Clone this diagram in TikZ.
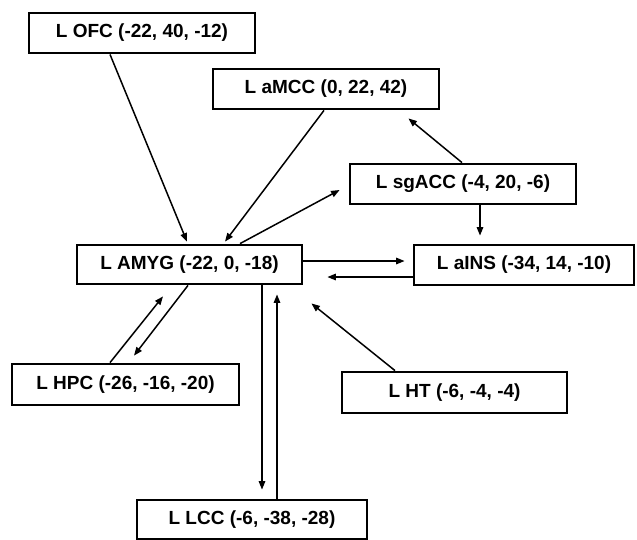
\documentclass[tikz,border=0pt]{standalone}
\usepackage{fontspec}
\setmainfont{Liberation Sans}
\usepackage{tikz}
\usetikzlibrary{arrows.meta, positioning, calc}
\tikzstyle{region} = [rectangle, draw=black, line width=2.8pt, fill=white, inner sep=0pt, minimum width=226pt, minimum height=40pt, align=center, font=\fontsize{19}{20}\selectfont\bfseries]
\tikzstyle{arrow} = [line width=1.5pt, -{Triangle[length=8.5pt, width=6.5pt]}]

\begin{document}
\begin{tikzpicture}[x=1pt, y=-1pt]
\useasboundingbox (0,0) rectangle (637,539);

% Top row
\node[region] (ofc) at (142,33) {L OFC (-22, 40, -12)};
\node[region] (amcc) at (326,89) {L aMCC (0, 22, 42)};
\node[region] (sgacc) at (463,184) {L sgACC (-4, 20, -6)};

% Middle row
\node[region, minimum width=225pt, minimum height=39pt] (amyg) at (189.5,264.5) {L AMYG (-22, 0, -18)};
\node[region, minimum width=220pt] (ains) at (524,265) {L aINS (-34, 14, -10)};

% Lower row
\node[region, minimum width=227pt, minimum height=41pt] (hpc) at (125.5,384.5) {L HPC (-26, -16, -20)};
\node[region, minimum width=225pt, minimum height=41pt] (ht) at (454.5,392.5) {L HT (-6, -4, -4)};
\node[region, minimum width=230pt, minimum height=39pt] (lcc) at (252,519.5) {L LCC (-6, -38, -28)};

% Connections
\draw[arrow] ([xshift=-32pt]ofc.south) -- ([xshift=-2.5pt, yshift=2pt]amyg.north);
\draw[arrow] ([xshift=-2pt]amcc.south) -- ([xshift=35.5pt, yshift=2pt]amyg.north);
\draw[arrow] ([xshift=50.5pt]amyg.north) -- ([xshift=-9pt, yshift=-6pt]sgacc.west);
\draw[arrow] ([xshift=-1pt]sgacc.north) -- ([xshift=-32pt, yshift=-8pt]amcc.south east);
\draw[arrow] ([xshift=17pt]sgacc.south) -- ([xshift=-44pt, yshift=8pt]ains.north);
\draw[arrow] ([yshift=3.5pt]amyg.east) -- ([xshift=-8pt, yshift=4pt]ains.west);
\draw[arrow] ([yshift=-12pt]ains.west) -- ([xshift=24pt, yshift=-12.5pt]amyg.east);
\draw[arrow] ([xshift=-15.5pt]hpc.north) -- ([xshift=-26.5pt, yshift=-11pt]amyg.south);
\draw[arrow] ([xshift=-1.5pt]amyg.south) -- ([xshift=8.5pt, yshift=7pt]hpc.north);
\draw[arrow] ([xshift=72.5pt]amyg.south) -- ([xshift=10pt, yshift=9pt]lcc.north);
\draw[arrow] ([xshift=25pt]lcc.north) -- ([xshift=87.5pt, yshift=-9pt]amyg.south);
\draw[arrow] ([xshift=-59.5pt]ht.north) -- ([xshift=8pt, yshift=-18pt]amyg.south east);
\end{tikzpicture}
\end{document}
